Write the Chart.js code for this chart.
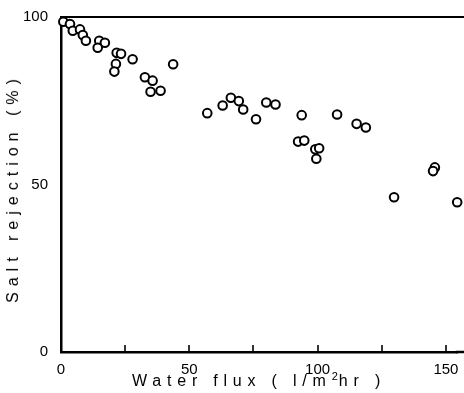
<!DOCTYPE html>
<html>
<head>
<meta charset="utf-8">
<script src="https://cdn.jsdelivr.net/npm/chart.js@4.4.0/dist/chart.umd.min.js"></script>
<style>
    html, body { margin: 0; padding: 0; background: #fff; }
    #wrap { position: relative; width: 464px; height: 393px; }
    #chart { position: absolute; left: 0; top: 0; }
    .axis-title {
        position: absolute;
        font-family: "Liberation Sans", Arial, sans-serif;
        font-size: 16px;
        color: #000;
        letter-spacing: 5.8px;
        white-space: nowrap;
    }
    #xTitle { left: 259px; top: 380px; transform: translate(-50%, -50%); }
    #yTitle { left: 13px; top: 188px; transform: translate(-50%, -50%) rotate(-90deg); letter-spacing: 6px; }
    sup { font-size: 11px; letter-spacing: 1px; }
</style>
</head>
<body>
<div id="wrap">
    <canvas id="chart" width="464" height="393"></canvas>
    <div id="xTitle" class="axis-title">Water flux ( l/m<sup>2</sup>hr )</div>
    <div id="yTitle" class="axis-title">Salt rejection (%)</div>
</div>
<script>
// Values
const fluxValues = [0.9, 3.5, 4.6, 7.4, 8.5, 9.7, 14.9, 17.1, 14.3, 21.7,
    23.4, 27.9, 21.4, 20.8, 43.7, 32.7, 35.7, 34.9, 38.8, 57.0,
    63.0, 66.2, 69.3, 71.0, 76.0, 80.0, 83.6, 93.8, 107.6, 92.4,
    94.8, 99.1, 100.6, 99.5, 115.2, 118.8, 145.7, 145.0, 129.8, 154.4];
const rejectionValues = [98.6, 97.9, 95.9, 96.3, 94.6, 92.9, 92.9, 92.3, 90.8, 89.3,
    89.0, 87.4, 86.0, 83.7, 85.9, 82.0, 81.0, 77.7, 78.0, 71.3,
    73.6, 75.9, 74.9, 72.4, 69.5, 74.5, 73.9, 70.7, 70.9, 62.8,
    63.1, 60.5, 60.8, 57.7, 68.1, 67.0, 55.1, 54.0, 46.2, 44.7];
const xTickLabels = [0, 50, 100, 150];
const xMinorTicks = [25, 50, 75, 100, 125, 150];
const yTickLabels = [0, 50, 100];

const points = fluxValues.map((x, i) => ({ x: x, y: rejectionValues[i] }));

// Inward tick marks and top frame line, drawn through the chart scales
const framePlugin = {
    id: 'frameLines',
    afterDraw(chart) {
        const c = chart.ctx;
        const area = chart.chartArea;
        const xs = chart.scales.x;
        c.save();
        c.setLineDash([]);
        c.globalAlpha = 1;
        c.globalCompositeOperation = 'source-over';
        c.strokeStyle = 'black';
        c.lineWidth = 1.6;
        xMinorTicks.forEach(v => {
            const px = Math.round(xs.getPixelForValue(v));
            c.beginPath();
            c.moveTo(px, area.bottom);
            c.lineTo(px, area.bottom - 7);
            c.stroke();
        });
        c.lineWidth = 2;
        c.beginPath();
        c.moveTo(area.left, area.top);
        c.lineTo(chart.width, area.top);
        c.stroke();
        c.lineWidth = 2.5;
        c.beginPath();
        c.moveTo(area.right - 2, area.bottom);
        c.lineTo(chart.width, area.bottom);
        c.stroke();
        c.restore();
    }
};

const chartCtx = document.getElementById('chart').getContext('2d');
new Chart(chartCtx, {
    type: 'scatter',
    data: {
        datasets: [{
            data: points,
            pointStyle: 'circle',
            pointRadius: 4.3,
            pointBorderWidth: 2,
            pointBorderColor: '#000',
            pointBackgroundColor: '#fff',
            clip: false
        }]
    },
    options: {
        responsive: false,
        animation: false,
        layout: { padding: { top: 17, right: 0, left: 0, bottom: 0 } },
        plugins: {
            legend: { display: false },
            tooltip: { enabled: false }
        },
        scales: {
            x: {
                type: 'linear',
                min: 0,
                max: 154.6,
                afterBuildTicks: scale => { scale.ticks = xTickLabels.map(v => ({ value: v })); },
                afterFit: scale => { scale.height = 41; },
                grid: { display: false },
                border: { display: true, color: '#000', width: 2.5 },
                ticks: {
                    color: '#000',
                    padding: 1,
                    maxRotation: 0,
                    font: { family: '"Liberation Sans", Arial, sans-serif', size: 15 }
                }
            },
            y: {
                type: 'linear',
                min: 0,
                max: 100,
                afterBuildTicks: scale => { scale.ticks = yTickLabels.map(v => ({ value: v })); },
                afterFit: scale => { scale.width = 61; },
                grid: { display: false },
                border: { display: true, color: '#000', width: 2.5 },
                ticks: {
                    color: '#000',
                    padding: 5,
                    font: { family: '"Liberation Sans", Arial, sans-serif', size: 15 }
                }
            }
        }
    },
    plugins: [framePlugin]
});
</script>
</body>
</html>
